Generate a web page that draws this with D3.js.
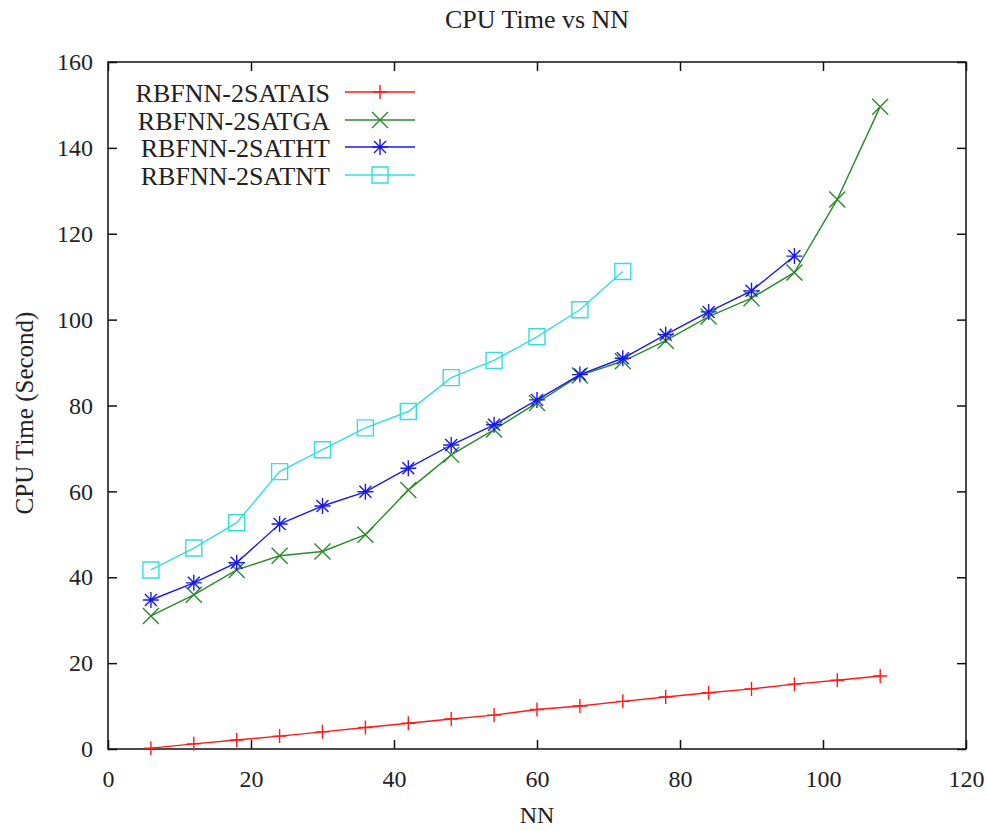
<!DOCTYPE html>
<html>
<head>
<meta charset="utf-8">
<script src="https://cdn.jsdelivr.net/npm/d3@7"></script>
<style>
body { margin: 0; background: #fff; }
text { font-family: "Liberation Serif", "DejaVu Serif", serif; fill: #222; }
</style>
</head>
<body>
<svg id="chart" width="987" height="831"></svg>
<script>
// values
var nn = [6, 12, 18, 24, 30, 36, 42, 48, 54, 60, 66, 72, 78, 84, 90, 96, 102, 108];
var aisTime = [0.2, 1.2, 2.1, 3.0, 4.0, 5.0, 6.0, 7.0, 7.9, 9.2, 10.0, 11.1, 12.1, 13.1, 14.0, 15.1, 16.0, 17.0];
var gaTime = [31.0, 35.9, 41.7, 45.0, 46.0, 49.9, 60.3, 68.5, 74.4, 80.6, 87.0, 90.3, 95.1, 100.7, 105.0, 111.0, 128.0, 149.6];
var htTime = [34.7, 38.7, 43.4, 52.4, 56.6, 59.9, 65.4, 70.8, 75.5, 81.3, 87.2, 91.0, 96.5, 101.8, 106.7, 114.8];
var ntTime = [41.7, 46.8, 52.7, 64.6, 69.7, 74.8, 78.6, 86.5, 90.5, 96.0, 102.3, 111.2];
var seriesNames = ["RBFNN-2SATAIS", "RBFNN-2SATGA", "RBFNN-2SATHT", "RBFNN-2SATNT"];
var seriesColors = ["#ff1a1a", "#2a8a2a", "#1a1ae6", "#33dede"];
var seriesMarks = ["plus", "cross", "star", "square"];
var xTicks = [0, 20, 40, 60, 80, 100, 120];
var yTicks = [0, 20, 40, 60, 80, 100, 120, 140, 160];

var svg = d3.select("#chart");
var plotL = 108, plotR = 966, plotT = 62, plotB = 749;

var x = d3.scaleLinear().domain([0, 120]).range([plotL, plotR]);
var y = d3.scaleLinear().domain([0, 160]).range([plotB, plotT]);

var allSeries = [aisTime, gaTime, htTime, ntTime].map(function(vals, i)
{
	return {
		name: seriesNames[i],
		color: seriesColors[i],
		mark: seriesMarks[i],
		points: vals.map(function(v, j) { return { x: nn[j], y: v }; })
	};
});

// frame
svg.append("rect")
	.attr("x", plotL).attr("y", plotT)
	.attr("width", plotR - plotL).attr("height", plotB - plotT)
	.attr("fill", "none").attr("stroke", "#111").attr("stroke-width", 1.5);

// axes with inward ticks, mirrored on the opposite side
var tickLen = 9;
svg.append("g")
	.attr("transform", "translate(0," + plotB + ")")
	.call(d3.axisBottom(x).tickValues(xTicks).tickSizeInner(-tickLen).tickSizeOuter(0).tickPadding(tickLen + 12))
	.call(function(g) { g.select(".domain").remove(); });
svg.append("g")
	.attr("transform", "translate(0," + plotT + ")")
	.call(d3.axisTop(x).tickValues(xTicks).tickSizeInner(-tickLen).tickSizeOuter(0).tickFormat(""))
	.call(function(g) { g.select(".domain").remove(); });
svg.append("g")
	.attr("transform", "translate(" + plotL + ",0)")
	.call(d3.axisLeft(y).tickValues(yTicks).tickSizeInner(-tickLen).tickSizeOuter(0).tickPadding(tickLen + 6))
	.call(function(g) { g.select(".domain").remove(); });
svg.append("g")
	.attr("transform", "translate(" + plotR + ",0)")
	.call(d3.axisRight(y).tickValues(yTicks).tickSizeInner(-tickLen).tickSizeOuter(0).tickFormat(""))
	.call(function(g) { g.select(".domain").remove(); });

svg.selectAll(".tick line").attr("stroke", "#111").attr("stroke-width", 1.5);
svg.selectAll(".tick text").style("font-size", "24px").attr("fill", "#333");

// titles
svg.append("text")
	.attr("x", 537).attr("y", 28)
	.attr("text-anchor", "middle").style("font-size", "26px")
	.text("CPU Time vs NN");
svg.append("text")
	.attr("x", 537).attr("y", 823)
	.attr("text-anchor", "middle").style("font-size", "24px")
	.text("NN");
svg.append("text")
	.attr("transform", "translate(33,413) rotate(-90)")
	.attr("text-anchor", "middle").style("font-size", "25px")
	.text("CPU Time (Second)");

function markPath(kind, cx, cy, s)
{
	var p = d3.path();
	if(kind === "plus" || kind === "star")
	{
		p.moveTo(cx - s, cy); p.lineTo(cx + s, cy);
		p.moveTo(cx, cy - s); p.lineTo(cx, cy + s);
	}
	if(kind === "cross" || kind === "star")
	{
		var d = kind === "star" ? s * 0.75 : s;
		p.moveTo(cx - d, cy - d); p.lineTo(cx + d, cy + d);
		p.moveTo(cx - d, cy + d); p.lineTo(cx + d, cy - d);
	}
	if(kind === "square")
	{
		p.rect(cx - s, cy - s, 2 * s, 2 * s);
	}
	return p.toString();
}
var markSize = { plus: 7, cross: 8, star: 8, square: 8 };

var line = d3.line().x(function(d) { return x(d.x); }).y(function(d) { return y(d.y); });

var groups = svg.selectAll("g.series").data(allSeries).enter()
	.append("g").attr("class", "series");

groups.append("path")
	.attr("d", function(d) { return line(d.points); })
	.attr("fill", "none")
	.attr("stroke", function(d) { return d.color; })
	.attr("stroke-width", 1.4);

groups.each(function(s)
{
	d3.select(this).selectAll("path.mark").data(s.points).enter()
		.append("path").attr("class", "mark")
		.attr("d", function(d) { return markPath(s.mark, x(d.x), y(d.y), markSize[s.mark]); })
		.attr("fill", "none")
		.attr("stroke", s.color)
		.attr("stroke-width", 1.4);
});

// legend
var legendY = [92, 120, 147, 175];
var legend = svg.selectAll("g.legend").data(allSeries).enter()
	.append("g").attr("class", "legend")
	.attr("transform", function(d, i) { return "translate(0," + legendY[i] + ")"; });
legend.append("text")
	.attr("x", 330).attr("y", 10)
	.attr("text-anchor", "end").style("font-size", "26px")
	.text(function(d) { return d.name; });
legend.append("line")
	.attr("x1", 345).attr("x2", 415).attr("y1", 0).attr("y2", 0)
	.attr("stroke", function(d) { return d.color; }).attr("stroke-width", 1.4);
legend.append("path")
	.attr("d", function(d) { return markPath(d.mark, 380, 0, markSize[d.mark]); })
	.attr("fill", "none")
	.attr("stroke", function(d) { return d.color; }).attr("stroke-width", 1.4);
</script>
</body>
</html>
